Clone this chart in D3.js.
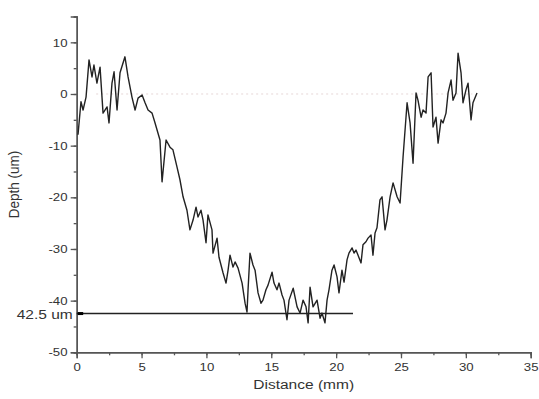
<!DOCTYPE html>
<html>
<head>
<meta charset="utf-8">
<script src="https://cdn.jsdelivr.net/npm/d3@7"></script>
<style>
  body { margin: 0; background: #fff; }
  svg text { font-family: "Liberation Sans", Arial, sans-serif; fill: #333; }
</style>
</head>
<body>
<svg id="chart" width="539" height="399"></svg>
<script>
// profile: distance (mm) and depth (um)
const distance = [
  0.10, 0.33, 0.49, 0.72, 0.95, 1.18, 1.33, 1.56, 1.80, 2.03, 2.34, 2.49, 2.72, 2.88, 3.11, 3.34,
  3.72, 3.96, 4.26, 4.50, 4.73, 5.04, 5.27, 5.50, 5.81, 6.04, 6.42, 6.58, 6.89, 7.19, 7.42, 7.73,
  7.96, 8.20, 8.50, 8.73, 8.97, 9.20, 9.35, 9.58, 9.74, 9.97, 10.12, 10.43, 10.51, 10.82, 10.97,
  11.28, 11.51, 11.67, 11.82, 12.05, 12.21, 12.44, 12.75, 12.98, 13.13, 13.21, 13.36, 13.59, 13.75,
  13.98, 14.21, 14.36, 14.59, 14.75, 15.06, 15.21, 15.44, 15.60, 15.83, 15.98, 16.21, 16.37, 16.69,
  16.99, 17.22, 17.45, 17.68, 17.84, 17.99, 18.22, 18.53, 18.76, 18.91, 19.14, 19.30, 19.45, 19.68,
  19.84, 20.07, 20.22, 20.45, 20.61, 20.84, 20.99, 21.23, 21.38, 21.53, 21.69, 21.92, 22.07, 22.30,
  22.46, 22.69, 22.84, 23.00, 23.15, 23.38, 23.54, 23.77, 23.92, 24.16, 24.39, 24.70, 24.93, 25.16,
  25.47, 25.70, 25.93, 26.16, 26.31, 26.55, 26.70, 26.93, 27.09, 27.32, 27.47, 27.70, 27.86, 28.09,
  28.24, 28.47, 28.63, 28.86, 29.01, 29.24, 29.40, 29.63, 29.78, 30.01, 30.17, 30.40, 30.55, 30.86
];
const depth = [
  -7.9, -1.5, -3.1, -0.6, 6.6, 3.3, 5.6, 2.1, 5.2, -3.7, -2.5, -5.6, 2.1, 4.3, -3.1, 4.1,
  7.2, 3.3, -0.6, -3.1, -0.8, -0.2, -1.7, -3.1, -3.7, -5.6, -8.9, -17.0, -8.9, -10.3, -10.8, -14.1,
  -16.6, -19.9, -22.5, -26.3, -24.4, -21.9, -23.8, -22.5, -24.4, -28.8, -23.4, -26.3, -30.8, -27.9, -31.6,
  -34.6, -36.6, -34.1, -31.2, -33.5, -32.5, -33.7, -36.6, -40.5, -42.2, -37.9, -30.8, -33.1, -34.1,
  -38.5, -40.5, -39.9, -37.9, -37.0, -34.5, -36.6, -37.9, -36.6, -38.9, -39.9, -43.7, -39.9, -37.6,
  -41.2, -42.4, -39.9, -41.2, -44.3, -37.4, -41.2, -39.9, -43.4, -42.4, -44.3, -39.9, -37.9, -34.1,
  -33.1, -35.4, -38.5, -34.1, -36.4, -32.1, -30.8, -29.8, -30.8, -30.2, -31.2, -32.7, -29.2, -28.6,
  -27.9, -27.3, -31.2, -26.9, -25.9, -20.5, -19.9, -26.3, -24.4, -19.9, -17.2, -19.9, -21.1, -12.2,
  -1.7, -5.6, -13.4, 0.2, -1.2, -4.5, -3.1, -3.7, 3.3, 4.1, -6.4, -4.5, -9.5, -5.0,
  -5.6, -3.7, 0.2, 2.7, -1.2, 0.2, 7.9, 4.1, -1.7, 0.8, 2.1, -5.0, -1.7, 0.2
];
const xTicks = [0, 5, 10, 15, 20, 25, 30, 35];
const yTicks = [-50, -40, -30, -20, -10, 0, 10];
const maxDepth = -42.5;          // marked deepest level
const markEnd = 21.3;            // where the marker line stops (mm)
const markLabel = "42.5 um";

const svg = d3.select("#chart");
const margin = {top: 16.5, right: 8.3, bottom: 46.7, left: 76.7};
const W = 539, H = 399;
const stretch = 1.15;            // the source picture is a little wider than tall

const x = d3.scaleLinear().domain([0, 35]).range([margin.left, W - margin.right]);
const y = d3.scaleLinear().domain([-50, 15]).range([H - margin.bottom, margin.top]);

// faint zero reference
svg.append("line")
  .attr("x1", x(1.5)).attr("x2", x(30.5))
  .attr("y1", y(0)).attr("y2", y(0))
  .attr("stroke", "#e6d6d6").attr("stroke-width", 1)
  .attr("stroke-dasharray", "2,3");

// x axis
const xAxis = svg.append("g").attr("transform", `translate(0,${y(-50)})`);
xAxis.call(d3.axisBottom(x).tickValues(d3.range(0, 35.1, 2.5)).tickSize(3).tickFormat(""));
xAxis.call(g => g.append("g").call(d3.axisBottom(x).tickValues(xTicks).tickSize(6).tickPadding(5)));
xAxis.selectAll("path.domain").attr("stroke", "#555").attr("stroke-width", 1.4);
xAxis.selectAll("line").attr("stroke", "#555").attr("stroke-width", 1.3);
xAxis.selectAll("text").attr("font-size", 11.5).attr("fill", "#333")
  .attr("transform", `scale(${stretch},1)`)
  .style("font-family", "Liberation Sans, Arial, sans-serif");

// y axis
const yAxis = svg.append("g").attr("transform", `translate(${x(0)},0)`);
yAxis.call(d3.axisLeft(y).tickValues(d3.range(-50, 15.1, 5)).tickSize(3).tickFormat(""));
yAxis.call(g => g.append("g").call(d3.axisLeft(y).tickValues(yTicks).tickSize(6).tickPadding(2)
  .tickFormat(d => d)));
yAxis.selectAll("path.domain").attr("stroke", "#555").attr("stroke-width", 1.4);
yAxis.selectAll("line").attr("stroke", "#555").attr("stroke-width", 1.3);
yAxis.selectAll("text").attr("font-size", 11.5).attr("fill", "#333")
  .attr("transform", `scale(${stretch},1)`)
  .style("font-family", "Liberation Sans, Arial, sans-serif");

// axis titles
svg.append("text")
  .attr("transform", `translate(${x(17.5)},389) scale(${stretch},1)`)
  .attr("text-anchor", "middle").attr("font-size", 13.5)
  .text("Distance (mm)");
svg.append("text")
  .attr("transform", `translate(19,${y(-17.5)}) scale(${stretch},1) rotate(-90)`)
  .attr("text-anchor", "middle").attr("font-size", 13.5)
  .text("Depth (um)");

// profile
const line = d3.line()
  .x((d, i) => x(distance[i]))
  .y(d => y(d));
svg.append("path")
  .datum(depth)
  .attr("fill", "none")
  .attr("stroke", "#222")
  .attr("stroke-width", 1.4)
  .attr("stroke-linejoin", "round")
  .attr("d", line);

// deepest level marker
svg.append("line")
  .attr("x1", x(0)).attr("x2", x(markEnd))
  .attr("y1", y(maxDepth)).attr("y2", y(maxDepth))
  .attr("stroke", "#222").attr("stroke-width", 1.5);
svg.append("line")
  .attr("x1", x(0) + 1).attr("x2", x(0.5))
  .attr("y1", y(maxDepth)).attr("y2", y(maxDepth))
  .attr("stroke", "#000").attr("stroke-width", 3);
svg.append("text")
  .attr("transform", `translate(${x(0) - 4},${y(maxDepth) + 5}) scale(${stretch},1)`)
  .attr("text-anchor", "end").attr("font-size", 13.5)
  .text(markLabel);
</script>
</body>
</html>
